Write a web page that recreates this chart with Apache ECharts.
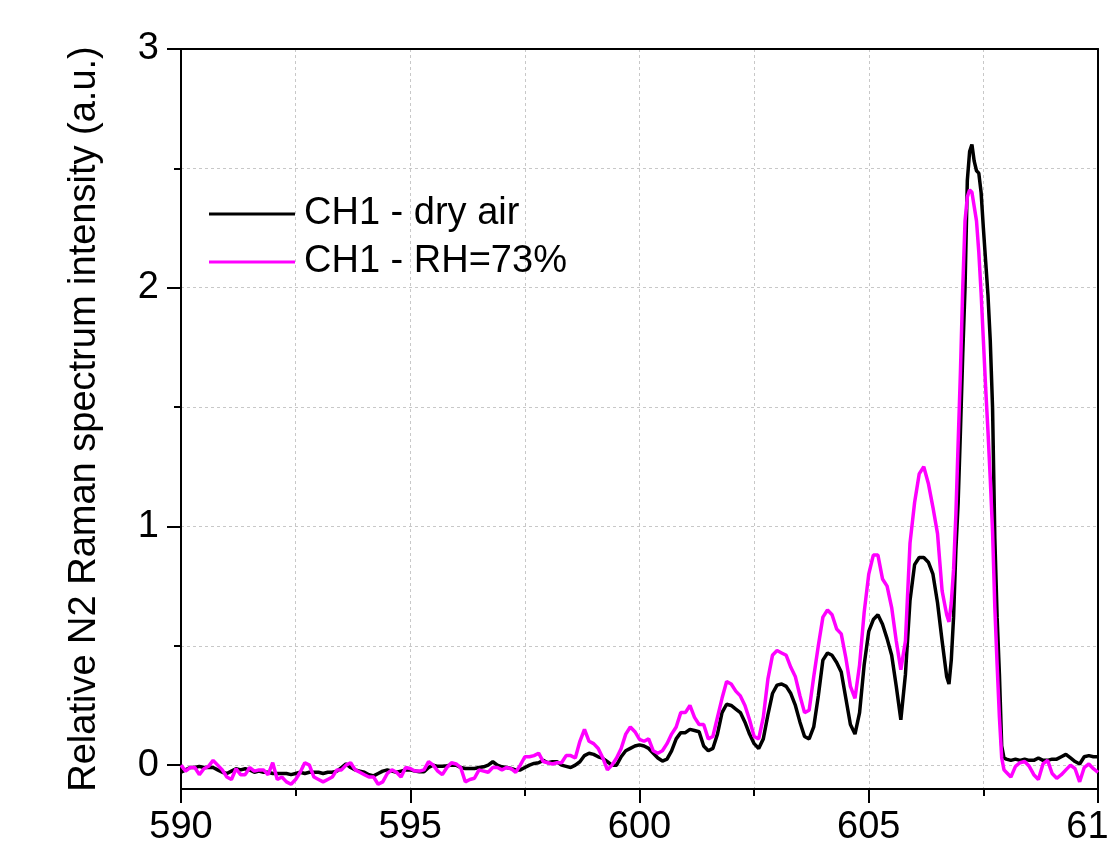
<!DOCTYPE html>
<html>
<head>
<meta charset="utf-8">
<script src="https://cdn.jsdelivr.net/npm/echarts@6/dist/echarts.min.js"></script>
<style>
  html, body { margin: 0; padding: 0; background: #fff; }
  #chart { width: 1109px; height: 855px; }
</style>
</head>
<body>
<div id="chart"></div>
<script>
// wavelength (nm), 0.1 step, finer around the main peak
const wavelength = [
  590.0, 590.1, 590.2, 590.3, 590.4, 590.5, 590.6, 590.7, 590.8, 590.9,
  591.0, 591.1, 591.2, 591.3, 591.4, 591.5, 591.6, 591.7, 591.8, 591.9,
  592.0, 592.1, 592.2, 592.3, 592.4, 592.5, 592.6, 592.7, 592.8, 592.9,
  593.0, 593.1, 593.2, 593.3, 593.4, 593.5, 593.6, 593.7, 593.8, 593.9,
  594.0, 594.1, 594.2, 594.3, 594.4, 594.5, 594.6, 594.7, 594.8, 594.9,
  595.0, 595.1, 595.2, 595.3, 595.4, 595.5, 595.6, 595.7, 595.8, 595.9,
  596.0, 596.1, 596.2, 596.3, 596.4, 596.5, 596.6, 596.7, 596.8, 596.9,
  597.0, 597.1, 597.2, 597.3, 597.4, 597.5, 597.6, 597.7, 597.8, 597.9,
  598.0, 598.1, 598.2, 598.3, 598.4, 598.5, 598.6, 598.7, 598.8, 598.9,
  599.0, 599.1, 599.2, 599.3, 599.4, 599.5, 599.6, 599.7, 599.8, 599.9,
  600.0, 600.1, 600.2, 600.3, 600.4, 600.5, 600.6, 600.7, 600.8, 600.9,
  601.0, 601.1, 601.2, 601.3, 601.4, 601.5, 601.6, 601.7, 601.8, 601.9,
  602.0, 602.1, 602.2, 602.3, 602.4, 602.5, 602.6, 602.7, 602.8, 602.9,
  603.0, 603.1, 603.2, 603.3, 603.4, 603.5, 603.6, 603.7, 603.8, 603.9,
  604.0, 604.1, 604.2, 604.3, 604.4, 604.5, 604.6, 604.7, 604.8, 604.9,
  605.0, 605.1, 605.2, 605.3, 605.4, 605.5, 605.6, 605.7, 605.8, 605.9,
  606.0, 606.1, 606.2, 606.3, 606.4, 606.5, 606.6, 606.7,
  606.75, 606.8, 606.85, 606.9, 606.95, 607.0, 607.05, 607.1, 607.15, 607.2,
  607.25, 607.3, 607.35, 607.4, 607.45, 607.5, 607.55, 607.6, 607.65, 607.7,
  607.75, 607.8, 607.85, 607.9, 607.95, 608.0,
  608.1, 608.2, 608.3, 608.4, 608.5, 608.6, 608.7, 608.8, 608.9, 609.0,
  609.1, 609.2, 609.3, 609.4, 609.5, 609.6, 609.7, 609.8, 609.9, 610.0
]

// CH1 - dry air
const dryAir = [
  -0.03, -0.02, -0.01, -0.01, -0.005, -0.01, -0.01, -0.01, -0.02, -0.03,
  -0.035, -0.025, -0.015, -0.02, -0.015, -0.02, -0.03, -0.025, -0.03, -0.03,
  -0.035, -0.035, -0.035, -0.035, -0.04, -0.035, -0.03, -0.035, -0.03, -0.03,
  -0.03, -0.035, -0.03, -0.03, -0.025, -0.01, 0.005, -0.01, -0.02, -0.025,
  -0.03, -0.04, -0.045, -0.035, -0.025, -0.02, -0.025, -0.03, -0.025, -0.02,
  -0.02, -0.025, -0.028, -0.028, -0.01, 0.0, -0.005, -0.005, -0.003, 0.0,
  0.0, -0.01, -0.014, -0.014, -0.014, -0.01, -0.007, 0.0, 0.014, 0.0,
  -0.007, -0.01, -0.014, -0.02, -0.02, -0.01, 0.0, 0.007, 0.01, 0.02,
  0.01, 0.014, 0.014, 0.0, -0.005, -0.01, 0.0, 0.014, 0.04, 0.05,
  0.045, 0.035, 0.028, 0.014, 0.0, 0.0, 0.035, 0.06, 0.07, 0.08,
  0.085, 0.08, 0.07, 0.05, 0.03, 0.017, 0.025, 0.06, 0.11, 0.136,
  0.136, 0.15, 0.145, 0.14, 0.08, 0.06, 0.07, 0.13, 0.22, 0.255,
  0.25, 0.235, 0.22, 0.18, 0.13, 0.09, 0.07, 0.11, 0.21, 0.3,
  0.335, 0.34, 0.33, 0.30, 0.25, 0.18, 0.12, 0.11, 0.16, 0.29,
  0.44, 0.47, 0.46, 0.43, 0.39, 0.28, 0.17, 0.13, 0.22, 0.42,
  0.56, 0.61, 0.63, 0.59, 0.53, 0.46, 0.33, 0.19, 0.38, 0.69,
  0.84, 0.87, 0.87, 0.85, 0.8, 0.68, 0.52, 0.37,
  0.34, 0.44, 0.62, 0.9, 1.1, 1.4, 1.72, 2.0, 2.45, 2.57,
  2.6, 2.53, 2.49, 2.48, 2.4, 2.25, 2.11, 1.97, 1.78, 1.5,
  0.95, 0.62, 0.38, 0.08, 0.03, 0.025,
  0.02, 0.025, 0.02, 0.025, 0.02, 0.02, 0.03, 0.02, 0.02, 0.025,
  0.025, 0.035, 0.045, 0.03, 0.015, 0.005, 0.035, 0.04, 0.035, 0.035
]

// CH1 - RH=73%
const humid = [
  0.0, -0.025, -0.01, -0.01, -0.04, -0.015, -0.005, 0.02, 0.0, -0.02,
  -0.05, -0.06, -0.015, -0.04, -0.04, -0.01, -0.025, -0.02, -0.02, -0.04,
  0.01, -0.06, -0.05, -0.07, -0.08, -0.06, -0.03, 0.01, 0.0, -0.05,
  -0.06, -0.07, -0.06, -0.05, -0.02, -0.02, 0.0, 0.01, -0.02, -0.03,
  -0.04, -0.05, -0.05, -0.08, -0.07, -0.035, -0.02, -0.03, -0.05, -0.01,
  -0.014, -0.025, -0.025, -0.02, 0.015, 0.0, -0.025, -0.04, -0.01, 0.01,
  0.005, -0.01, -0.07, -0.06, -0.055, -0.02, -0.025, -0.03, -0.01, -0.01,
  -0.02, -0.01, -0.015, -0.03, 0.0, 0.035, 0.035, 0.04, 0.05, 0.015,
  0.01, 0.005, 0.01, 0.01, 0.04, 0.04, 0.03, 0.1, 0.15, 0.1,
  0.09, 0.07, 0.03, -0.02, 0.0, 0.03, 0.07, 0.13, 0.16, 0.14,
  0.108, 0.1, 0.11, 0.06, 0.05, 0.06, 0.09, 0.13, 0.16, 0.22,
  0.22, 0.25, 0.2, 0.17, 0.17, 0.11, 0.12, 0.2, 0.28, 0.35,
  0.34, 0.31, 0.29, 0.25, 0.19, 0.12, 0.11, 0.2, 0.36, 0.46,
  0.48, 0.47, 0.46, 0.41, 0.37, 0.29, 0.22, 0.23, 0.37, 0.5,
  0.62, 0.65, 0.63, 0.57, 0.55, 0.45, 0.33, 0.28, 0.42, 0.64,
  0.8, 0.88, 0.88, 0.78, 0.75, 0.66, 0.52, 0.4, 0.52, 0.93,
  1.1, 1.22, 1.25, 1.18, 1.08, 0.97, 0.73, 0.63,
  0.6, 0.68, 0.82, 1.05, 1.35, 1.65, 2.0, 2.28, 2.38, 2.41,
  2.4, 2.34, 2.28, 2.15, 1.98, 1.78, 1.58, 1.4, 1.2, 0.98,
  0.66, 0.42, 0.2, 0.03, -0.02, -0.03,
  -0.05, -0.005, 0.01, 0.015, -0.005, -0.04, -0.06, 0.005, 0.02, -0.035,
  -0.055, -0.04, -0.02, 0.0, -0.015, -0.07, -0.01, 0.005, -0.015, -0.03
]

const yTicks = [0, 0.5, 1, 1.5, 2, 2.5, 3]
const yLabels = [0, 1, 2, 3]

const font = '"Liberation Sans", Arial, sans-serif'
const gridLine = { show: true, lineStyle: { color: '#c8c8c8', type: [3, 3], width: 1 } }
const frameLine = { show: true, onZero: false, lineStyle: { color: '#000', width: 2 } }

const pairs = (ys) => wavelength.map((x, i) => [x, ys[i]])

const chart = echarts.init(document.getElementById('chart'))
chart.setOption({
  animation: false,
  backgroundColor: '#fff',
  textStyle: { fontFamily: font },
  grid: {
    left: 181, right: 11, top: 49, bottom: 66,
    outerBoundsMode: 'none',
    containLabel: false
  },
  legend: {
    orient: 'vertical',
    left: 204,
    top: 190,
    icon: 'rect',
    itemWidth: 86,
    itemHeight: 3,
    itemGap: 10,
    textStyle: { fontSize: 38, color: '#000', fontFamily: font, padding: [0, 0, 0, 4] },
    data: ['CH1 - dry air', 'CH1 - RH=73%']
  },
  xAxis: [
    {
      type: 'value',
      min: 590,
      max: 610,
      interval: 5,
      axisLine: frameLine,
      axisTick: { show: true, length: 14, lineStyle: { color: '#000', width: 2 } },
      minorTick: { show: true, splitNumber: 2, length: 7, lineStyle: { color: '#000', width: 2 } },
      axisLabel: { fontSize: 38, color: '#000', margin: 20, fontFamily: font },
      splitLine: gridLine,
      minorSplitLine: gridLine
    },
    {
      // top frame
      type: 'value',
      position: 'top',
      min: 590,
      max: 610,
      axisLine: frameLine,
      axisTick: { show: false },
      axisLabel: { show: false },
      splitLine: { show: false }
    }
  ],
  yAxis: [
    {
      type: 'value',
      min: -0.1,
      max: 3,
      name: 'Relative N2 Raman spectrum intensity (a.u.)',
      nameLocation: 'middle',
      nameGap: 77,
      nameTextStyle: { fontSize: 38, color: '#000', fontFamily: font },
      axisLine: frameLine,
      axisTick: { show: true, length: 7, customValues: yTicks, lineStyle: { color: '#000', width: 2 } },
      axisLabel: { fontSize: 38, color: '#000', margin: 22, customValues: yLabels, fontFamily: font },
      splitLine: gridLine
    },
    {
      // long ticks at integer values
      type: 'value',
      min: -0.1,
      max: 3,
      position: 'left',
      axisLine: { show: false, onZero: false },
      axisTick: { show: true, length: 14, customValues: yLabels, lineStyle: { color: '#000', width: 2 } },
      axisLabel: { show: false },
      splitLine: { show: false }
    },
    {
      // right frame
      type: 'value',
      min: -0.1,
      max: 3,
      position: 'right',
      axisLine: frameLine,
      axisTick: { show: false },
      axisLabel: { show: false },
      splitLine: { show: false }
    }
  ],
  series: [
    {
      name: 'CH1 - dry air',
      type: 'line',
      symbol: 'none',
      color: '#000000',
      lineStyle: { width: 3.5, color: '#000000' },
      data: pairs(dryAir)
    },
    {
      name: 'CH1 - RH=73%',
      type: 'line',
      symbol: 'none',
      color: '#ff00ff',
      lineStyle: { width: 3.5, color: '#ff00ff' },
      data: pairs(humid)
    }
  ]
})
</script>
</body>
</html>
